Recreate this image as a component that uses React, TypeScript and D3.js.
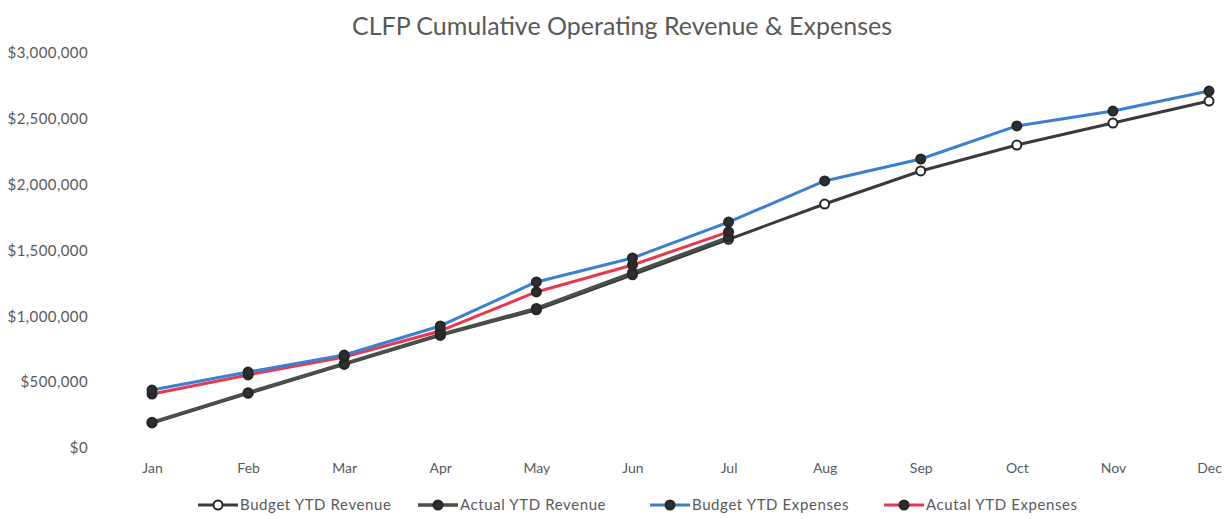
import React, { useRef, useEffect } from 'react';
import * as d3 from 'd3';

const months = ['Jan', 'Feb', 'Mar', 'Apr', 'May', 'Jun', 'Jul', 'Aug', 'Sep', 'Oct', 'Nov', 'Dec'];
const yTicks = [0, 500000, 1000000, 1500000, 2000000, 2500000, 3000000];

const budgetRevenue = [190000, 415000, 635000, 855000, 1050000, 1315000, 1585000, 1853000, 2104000, 2301000, 2468000, 2635000];
const actualRevenue = [195000, 420000, 640000, 860000, 1060000, 1330000, 1600000];
const budgetExpenses = [440000, 577000, 706000, 927000, 1261000, 1443000, 1716000, 2028000, 2195000, 2446000, 2559000, 2711000];
const actualExpenses = [410000, 555000, 691000, 889000, 1185000, 1390000, 1641000];

const seriesList = [
    { name: 'Budget YTD Revenue', values: budgetRevenue, color: '#3a3a3a', width: 3, marker: '#ffffff' },
    { name: 'Actual YTD Revenue', values: actualRevenue, color: '#47504a', width: 3.5, marker: '#2f2f2f' },
    { name: 'Acutal YTD Expenses', values: actualExpenses, color: '#e8384f', width: 3, marker: '#2f2a2c' },
    { name: 'Budget YTD Expenses', values: budgetExpenses, color: '#3b7fd0', width: 3, marker: '#2c2f33' },
];

const legendOrder = ['Budget YTD Revenue', 'Actual YTD Revenue', 'Budget YTD Expenses', 'Acutal YTD Expenses'];
const legendX = [198, 418, 650, 884];

const App = () => {
    const svgRef = useRef<SVGSVGElement>(null);
    const width = 1225;
    const height = 519;

    useEffect(() => {
        const svg = d3.select(svgRef.current);
        svg.selectAll('*').remove();

        const font = 'Lato, "Open Sans", sans-serif';
        const textColor = '#595959';

        const x = d3.scalePoint<string>().domain(months).range([152, 1209]);
        const y = d3.scaleLinear().domain([0, 3000000]).range([448, 53]);

        // title
        svg.append('text')
            .attr('x', 622)
            .attr('y', 35)
            .attr('text-anchor', 'middle')
            .attr('font-family', font)
            .attr('font-size', 25)
            .attr('fill', textColor)
            .text('CLFP Cumulative Operating Revenue & Expenses');

        // y axis (labels only)
        const yAxis = svg.append('g')
            .attr('transform', 'translate(96,0)')
            .call(d3.axisLeft(y).tickValues(yTicks).tickSize(0).tickPadding(8)
                .tickFormat(d => '$' + d3.format(',')(d as number)));
        yAxis.select('.domain').remove();
        yAxis.selectAll('text')
            .attr('font-family', font)
            .attr('font-size', 15)
            .attr('letter-spacing', 0.4)
            .attr('fill', textColor);

        // x axis (labels only)
        const xAxis = svg.append('g')
            .attr('transform', 'translate(0,458)')
            .call(d3.axisBottom(x).tickSize(0).tickPadding(5));
        xAxis.select('.domain').remove();
        xAxis.selectAll('text')
            .attr('font-family', font)
            .attr('font-size', 14)
            .attr('fill', textColor);

        const line = d3.line<number>()
            .x((_, i) => x(months[i]) as number)
            .y(d => y(d));

        seriesList.forEach(s => {
            svg.append('path')
                .datum(s.values)
                .attr('d', line)
                .attr('fill', 'none')
                .attr('stroke', s.color)
                .attr('stroke-width', s.width)
                .attr('stroke-linejoin', 'round');
        });

        seriesList.forEach(s => {
            svg.append('g')
                .selectAll('circle')
                .data(s.values)
                .enter()
                .append('circle')
                .attr('cx', (_, i) => x(months[i]) as number)
                .attr('cy', d => y(d))
                .attr('r', 4.5)
                .attr('fill', s.marker)
                .attr('stroke', '#262626')
                .attr('stroke-width', 2);
        });

        // legend
        const legend = svg.append('g').attr('transform', 'translate(0,505)');
        legendOrder.forEach((name, i) => {
            const s = seriesList.find(d => d.name === name)!;
            const lx = legendX[i];
            legend.append('line')
                .attr('x1', lx).attr('x2', lx + 40)
                .attr('y1', 0).attr('y2', 0)
                .attr('stroke', s.color)
                .attr('stroke-width', s.width);
            legend.append('circle')
                .attr('cx', lx + 20).attr('cy', 0).attr('r', 4.5)
                .attr('fill', s.marker)
                .attr('stroke', '#262626')
                .attr('stroke-width', 2);
            legend.append('text')
                .attr('x', lx + 42)
                .attr('y', 5)
                .attr('font-family', font)
                .attr('font-size', 15)
                .attr('letter-spacing', 0.6)
                .attr('fill', textColor)
                .text(name);
        });
    }, []);

    return (
        <svg ref={svgRef} width={width} height={height}
            style={{ position: 'absolute', left: 0, top: 0, display: 'block' }}></svg>
    );
};

export default App;
